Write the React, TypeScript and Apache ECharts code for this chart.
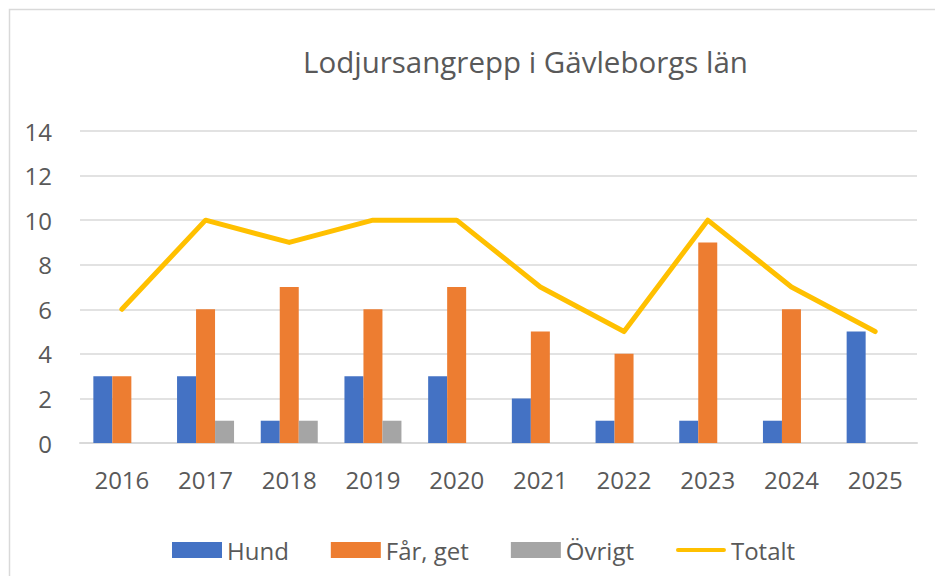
import React, { useEffect, useRef } from "react";
import * as echarts from "echarts";

const years = ["2016", "2017", "2018", "2019", "2020", "2021", "2022", "2023", "2024", "2025"];
const hund = [3, 3, 1, 3, 3, 2, 1, 1, 1, 5];
const farGet = [3, 6, 7, 6, 7, 5, 4, 9, 6, 0];
const ovrigt = [0, 1, 1, 1, 0, 0, 0, 0, 0, 0];
const totalt = [6, 10, 9, 10, 10, 7, 5, 10, 7, 5];

const FONT = "'Open Sans', sans-serif";
const TXT = "#595959";

export default function App() {
  const ref = useRef<HTMLDivElement>(null);
  useEffect(() => {
    if (!ref.current) return;
    const chart = echarts.init(ref.current, null, { renderer: "svg" });
    chart.setOption({
      animation: false,
      backgroundColor: "#ffffff",
      textStyle: { fontFamily: FONT },
      title: {
        text: "Lodjursangrepp i Gävleborgs län",
        left: 298,
        top: 41,
        textStyle: { fontFamily: FONT, fontSize: 29.5, fontWeight: "normal", color: TXT },
      },
      graphic: [
        {
          type: "rect",
          shape: { x: 9.5, y: 9.5, width: 940, height: 600 },
          style: { fill: "none", stroke: "#d9d9d9", lineWidth: 1.5 },
          silent: true,
        },
      ],
      legend: {
        left: 167,
        top: 533,
        itemWidth: 50,
        itemHeight: 16,
        itemGap: 42,
        textStyle: { fontFamily: FONT, fontSize: 24, color: TXT },
        data: [
          { name: "Hund", icon: "rect" },
          { name: "Får, get", icon: "rect" },
          { name: "Övrigt", icon: "rect" },
          { name: "Totalt", icon: "path://M2,0 L48,0 A2,2 0 0 1 48,4 L2,4 A2,2 0 0 1 2,0 Z" },
        ],
      },
      grid: { left: 80, right: 18, top: 131, bottom: 133, containLabel: false },
      xAxis: {
        type: "category",
        data: years,
        axisTick: { show: false },
        axisLine: { lineStyle: { color: "#d9d9d9", width: 2 } },
        axisLabel: { fontFamily: FONT, fontSize: 24, color: TXT, margin: 24 },
      },
      yAxis: {
        type: "value",
        min: 0,
        max: 14,
        interval: 2,
        axisLine: { show: false },
        axisTick: { show: false },
        splitLine: { lineStyle: { color: "#d9d9d9", width: 1.5 } },
        axisLabel: { fontFamily: FONT, fontSize: 24, color: TXT, margin: 28 },
      },
      series: [
        { name: "Hund", type: "bar", data: hund, barWidth: 19, barGap: "0%", itemStyle: { color: "#4472C4" } },
        { name: "Får, get", type: "bar", data: farGet, barWidth: 19, barGap: "0%", itemStyle: { color: "#ED7D31" } },
        { name: "Övrigt", type: "bar", data: ovrigt, barWidth: 19, barGap: "0%", itemStyle: { color: "#A5A5A5" } },
        {
          name: "Totalt",
          type: "line",
          data: totalt,
          symbol: "none",
          z: 5,
          itemStyle: { color: "#FFC000" },
          lineStyle: { color: "#FFC000", width: 5, cap: "round", join: "round" },
        },
      ],
    });
    return () => chart.dispose();
  }, []);
  return (
    <div
      ref={ref}
      style={{ position: "fixed", left: 0, top: 0, width: 935, height: 576 }}
    />
  );
}
